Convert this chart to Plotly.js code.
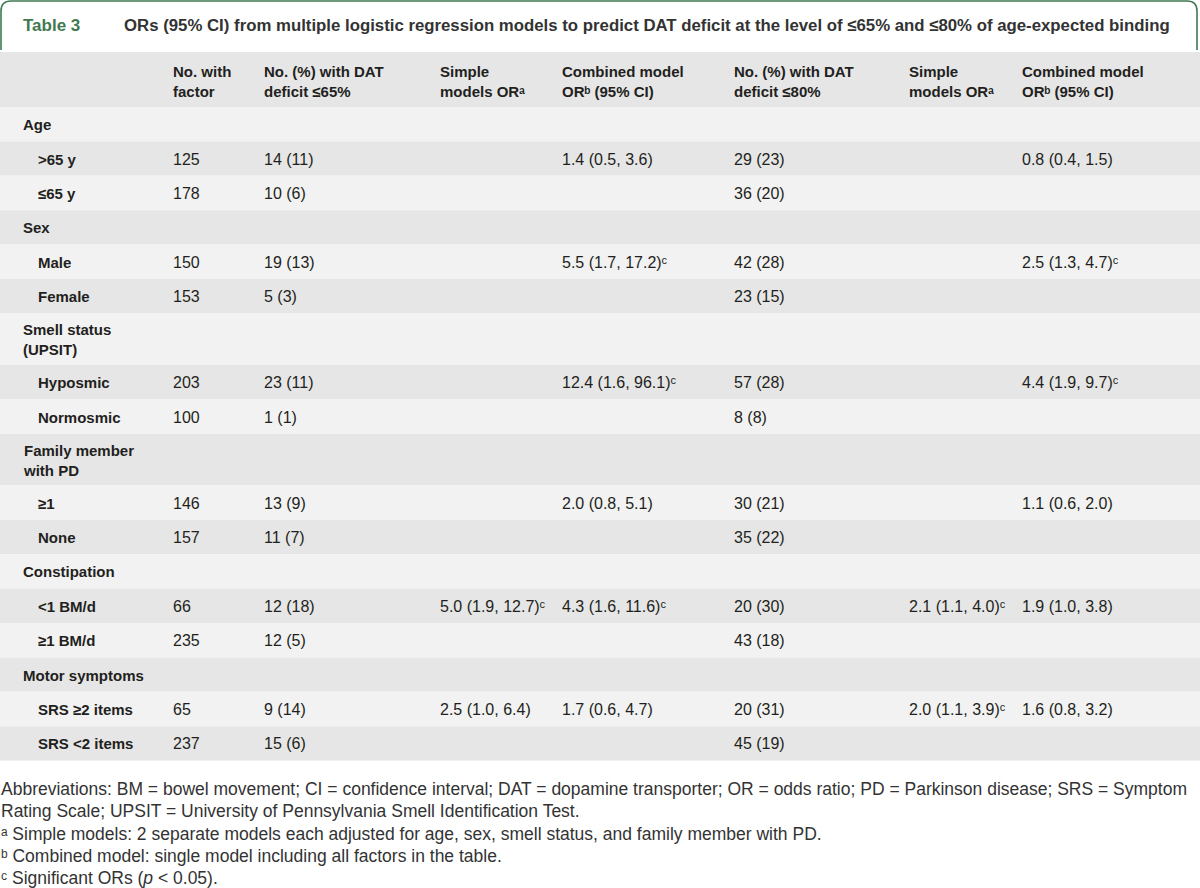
<!DOCTYPE html>
<html>
<head>
<meta charset="utf-8">
<script src="https://cdn.plot.ly/plotly-3.0.1.min.js"></script>
<style>html,body{margin:0;padding:0;background:#fff;}#chart{width:1200px;height:888px;}</style>
</head>
<body>
<div id="chart"></div>
<script>
// ---------- data ----------
const tableLabel = "Table 3";
const tableTitle = "ORs (95% CI) from multiple logistic regression models to predict DAT deficit at the level of ≤65% and ≤80% of age-expected binding";

const headers = ["", "No. with<br>factor", "No. (%) with DAT<br>deficit ≤65%", "Simple<br>models ORᵃ",
  "Combined model<br>ORᵇ (95% CI)", "No. (%) with DAT<br>deficit ≤80%", "Simple<br>models ORᵃ",
  "Combined model<br>ORᵇ (95% CI)"];

const rowLabels = ["Age", "&gt;65 y", "≤65 y", "Sex", "Male", "Female", "Smell status<br>(UPSIT)", "Hyposmic", "Normosmic",
  "Family member<br>with PD", "≥1", "None", "Constipation", "&lt;1 BM/d", "≥1 BM/d", "Motor symptoms", "SRS ≥2 items", "SRS &lt;2 items"];
const isGroup = [true, false, false, true, false, false, true, false, false, true, false, false, true, false, false, true, false, false];

const nWithFactor = ["", "125", "178", "", "150", "153", "", "203", "100", "", "146", "157", "", "66", "235", "", "65", "237"];
const deficit65 = ["", "14 (11)", "10 (6)", "", "19 (13)", "5 (3)", "", "23 (11)", "1 (1)", "", "13 (9)", "11 (7)", "", "12 (18)", "12 (5)", "", "9 (14)", "15 (6)"];
const simpleOR65 = ["", "", "", "", "", "", "", "", "", "", "", "", "", "5.0 (1.9, 12.7)", "", "", "2.5 (1.0, 6.4)", ""];
const simpleSig65 = [0,0,0,0,0,0,0,0,0,0,0,0,0,1,0,0,0,0];
const combinedOR65 = ["", "1.4 (0.5, 3.6)", "", "", "5.5 (1.7, 17.2)", "", "", "12.4 (1.6, 96.1)", "", "", "2.0 (0.8, 5.1)", "", "", "4.3 (1.6, 11.6)", "", "", "1.7 (0.6, 4.7)", ""];
const combinedSig65 = [0,0,0,0,1,0,0,1,0,0,0,0,0,1,0,0,0,0];
const deficit80 = ["", "29 (23)", "36 (20)", "", "42 (28)", "23 (15)", "", "57 (28)", "8 (8)", "", "30 (21)", "35 (22)", "", "20 (30)", "43 (18)", "", "20 (31)", "45 (19)"];
const simpleOR80 = ["", "", "", "", "", "", "", "", "", "", "", "", "", "2.1 (1.1, 4.0)", "", "", "2.0 (1.1, 3.9)", ""];
const simpleSig80 = [0,0,0,0,0,0,0,0,0,0,0,0,0,1,0,0,1,0];
const combinedOR80 = ["", "0.8 (0.4, 1.5)", "", "", "2.5 (1.3, 4.7)", "", "", "4.4 (1.9, 9.7)", "", "", "1.1 (0.6, 2.0)", "", "", "1.9 (1.0, 3.8)", "", "", "1.6 (0.8, 3.2)", ""];
const combinedSig80 = [0,0,0,0,1,0,0,1,0,0,0,0,0,0,0,0,0,0];
const sigMark = "ᶜ";

const footnotes = [
  "Abbreviations: BM = bowel movement; CI = confidence interval; DAT = dopamine transporter; OR = odds ratio; PD = Parkinson disease; SRS = Symptom",
  "Rating Scale; UPSIT = University of Pennsylvania Smell Identification Test.",
  "ᵃ Simple models: 2 separate models each adjusted for age, sex, smell status, and family member with PD.",
  "ᵇ Combined model: single model including all factors in the table.",
  "ᶜ Significant ORs (<i>p</i> &lt; 0.05)."
];

// ---------- styling / layout constants ----------
const W = 1200, H = 888;
const FONT = "Liberation Sans, Arial, DejaVu Sans, sans-serif";
const TXT = "#231f20";
const GREEN = "#3f7a50";
const LIGHT = "#f2f2f2", DARK = "#e6e6e6";
const colX = [22, 172, 263, 439, 561, 733, 908, 1021];
const subIndent = 37;
const headerTop = 52, headerBottom = 107;
const lineUnit = 17.2;
const footTop = 789, footStep = 22.3;

const shapes = [];
const ann = [];

// title box (open at bottom, rounded top corners)
const bx0 = 1, bx1 = 1197, by0 = 1, by1 = 50, r = 10;
shapes.push({type: "path", xref: "x", yref: "y", layer: "above",
  path: `M ${bx0},${by1} L ${bx0},${by0 + r} Q ${bx0},${by0} ${bx0 + r},${by0} L ${bx1 - r},${by0} Q ${bx1},${by0} ${bx1},${by0 + r} L ${bx1},${by1}`,
  line: {color: GREEN, width: 1.6}});
ann.push({x: 22, y: 25, xref: "x", yref: "y", xanchor: "left", yanchor: "middle", showarrow: false, borderpad: 0,
  text: tableLabel, font: {family: FONT, size: 17, weight: "bold", color: GREEN}});
ann.push({x: 123, y: 25, xref: "x", yref: "y", xanchor: "left", yanchor: "middle", showarrow: false, borderpad: 0,
  text: tableTitle, font: {family: FONT, size: 16.8, weight: "bold", color: "#333"}});

// header band
shapes.push({type: "rect", xref: "x", yref: "y", x0: 0, x1: W, y0: headerTop, y1: headerBottom,
  fillcolor: DARK, line: {width: 0}, layer: "below"});
headers.forEach((h, j) => {
  if (!h) return;
  ann.push({x: colX[j], y: (headerTop + headerBottom) / 2 + 1.5, xref: "x", yref: "y", xanchor: "left", yanchor: "middle",
    showarrow: false, borderpad: 0, align: "left", text: h, font: {family: FONT, size: 15, weight: "bold", color: TXT}});
});

// body rows
const columns = [
  [nWithFactor, null], [deficit65, null], [simpleOR65, simpleSig65], [combinedOR65, combinedSig65],
  [deficit80, null], [simpleOR80, simpleSig80], [combinedOR80, combinedSig80]
];
let y = headerBottom;
rowLabels.forEach((lab, i) => {
  const nLines = lab.split("<br>").length;
  const h = lineUnit * (nLines + 1);
  shapes.push({type: "rect", xref: "x", yref: "y", x0: 0, x1: W, y0: y, y1: y + h,
    fillcolor: i % 2 === 0 ? LIGHT : DARK, line: {width: 0}, layer: "below"});
  const yc = y + h / 2 + 0.5;
  ann.push({x: isGroup[i] ? colX[0] : subIndent, y: yc, xref: "x", yref: "y", xanchor: "left", yanchor: "middle",
    showarrow: false, borderpad: 0, align: "left", text: lab, font: {family: FONT, size: 15, weight: "bold", color: TXT}});
  columns.forEach(([vals, sig], k) => {
    const v = vals[i];
    if (!v) return;
    ann.push({x: colX[k + 1], y: yc, xref: "x", yref: "y", xanchor: "left", yanchor: "middle",
      showarrow: false, borderpad: 0, text: v + (sig && sig[i] ? sigMark : ""),
      font: {family: FONT, size: 16, color: TXT}});
  });
  y += h;
});

// footnotes
footnotes.forEach((t, i) => {
  ann.push({x: 0, y: footTop + i * footStep, xref: "x", yref: "y", xanchor: "left", yanchor: "middle",
    showarrow: false, borderpad: 0, align: "left", text: t, font: {family: FONT, size: 17.5, color: "#333"}});
});

const layout = {
  width: W, height: H, margin: {l: 0, r: 0, t: 0, b: 0},
  paper_bgcolor: "#fff", plot_bgcolor: "#fff", showlegend: false,
  xaxis: {range: [0, W], visible: false, fixedrange: true},
  yaxis: {range: [H, 0], visible: false, fixedrange: true},
  shapes: shapes, annotations: ann
};
Plotly.newPlot("chart", [{type: "scatter", x: [0], y: [0], mode: "markers", marker: {opacity: 0}, hoverinfo: "skip"}],
  layout, {displayModeBar: false, staticPlot: true});
</script>
</body>
</html>
